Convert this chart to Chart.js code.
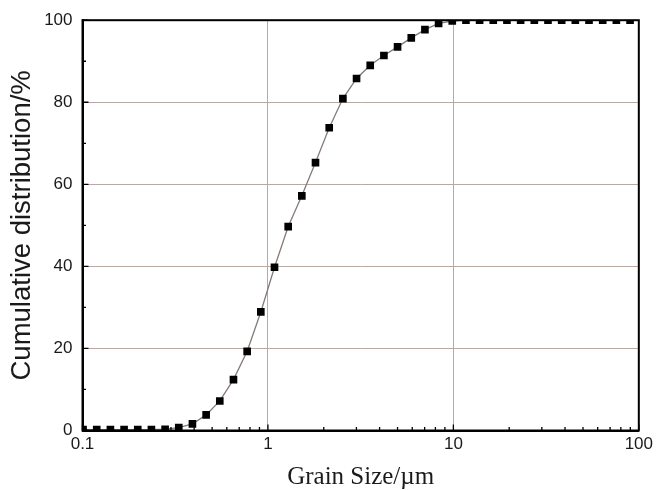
<!DOCTYPE html>
<html>
<head>
<meta charset="utf-8">
<script src="https://cdn.jsdelivr.net/npm/chart.js@4.4.1/dist/chart.umd.min.js"></script>
<style>
  html, body { margin: 0; padding: 0; background: #ffffff; }
  #wrap { width: 657px; height: 490px; position: relative; }
  canvas { display: block; }
</style>
</head>
<body>
<div id="wrap"><canvas id="c" width="657" height="490"></canvas></div>
<script>
// ---- data ----
const grainSize = [0.1007, 0.1193, 0.1414, 0.1676, 0.1986, 0.2353, 0.2789, 0.3305, 0.3916, 0.4642,
                   0.5500, 0.6518, 0.7725, 0.9154, 1.085, 1.286, 1.523, 1.805, 2.140, 2.536,
                   3.005, 3.561, 4.221, 5.000, 5.928, 7.024, 8.323, 9.863, 11.69, 13.85,
                   16.41, 19.45, 23.05, 27.32, 32.37, 38.37, 45.46, 53.88, 63.86, 75.66, 89.68];
const cumulative = [0.2, 0.2, 0.2, 0.2, 0.2, 0.2, 0.3, 0.7, 1.6, 3.8,
                    7.2, 12.4, 19.3, 28.9, 39.8, 49.7, 57.2, 65.3, 73.8, 80.9,
                    85.8, 89.0, 91.4, 93.5, 95.7, 97.7, 99.2, 99.8, 100, 100,
                    100, 100, 100, 100, 100, 100, 100, 100, 100, 100, 100];
const xTickValues = [0.1, 1, 10, 100];
const xTickLabels = ['0.1', '1', '10', '100'];
const xGridValues = [1, 10];
const xMinorTicks = [0.2, 0.3, 0.4, 0.5, 0.6, 0.7, 0.8, 0.9, 2, 3, 4, 5, 6, 7, 8, 9, 20, 30, 40, 50, 60, 70, 80, 90];
const yTickValues = [0, 20, 40, 60, 80, 100];
const yMinorTicks = [10, 30, 50, 70, 90];
const xTitle = 'Grain Size/\u00b5m';
const yTitle = 'Cumulative distribution/%';

const gridColor = '#b8a9a2';

const framePlugin = {
  id: 'frame',
  afterDraw(chart) {
    const {ctx, chartArea: a, scales} = chart;
    const xs = scales.x, ys = scales.y;
    ctx.save();
    ctx.strokeStyle = '#000';
    ctx.lineWidth = 1.3;
    ctx.beginPath();
    yTickValues.forEach(v => { const p = ys.getPixelForValue(v); ctx.moveTo(a.left, p); ctx.lineTo(a.left + 6, p); });
    yMinorTicks.forEach(v => { const p = ys.getPixelForValue(v); ctx.moveTo(a.left, p); ctx.lineTo(a.left + 3.5, p); });
    xTickValues.forEach(v => { const p = xs.getPixelForValue(v); ctx.moveTo(p, a.bottom); ctx.lineTo(p, a.bottom - 6); });
    xMinorTicks.forEach(v => { const p = xs.getPixelForValue(v); ctx.moveTo(p, a.bottom); ctx.lineTo(p, a.bottom - 3.5); });
    ctx.stroke();
    ctx.lineWidth = 2;
    ctx.strokeRect(a.left, a.top, a.right - a.left, a.bottom - a.top);
    ctx.restore();
  }
};

new Chart(document.getElementById('c'), {
  type: 'scatter',
  data: {
    datasets: [{
      data: grainSize.map((x, i) => ({x: x, y: cumulative[i]})),
      showLine: true,
      borderColor: '#857a76',
      borderWidth: 1.3,
      pointStyle: 'rect',
      pointRadius: 5.4,
      pointHoverRadius: 5.4,
      pointBackgroundColor: '#000',
      pointBorderColor: '#000',
      pointBorderWidth: 0,
      tension: 0
    }]
  },
  options: {
    responsive: false,
    animation: false,
    devicePixelRatio: 1,
    layout: { padding: { left: 0, right: 17, top: 19, bottom: 0 } },
    plugins: { legend: { display: false }, tooltip: { enabled: false } },
    scales: {
      x: {
        type: 'logarithmic',
        position: 'bottom',
        min: 0.1,
        max: 100,
        afterBuildTicks(scale) { scale.ticks = xTickValues.map(v => ({value: v})); },
        afterFit(scale) { scale.height = 59.5; },
        ticks: {
          autoSkip: false,
          maxRotation: 0,
          padding: 4,
          color: '#1a1a1a',
          font: { family: 'Liberation Sans', size: 17 },
          callback: (v, i) => xTickLabels[i]
        },
        grid: {
          drawTicks: false,
          lineWidth: 1,
          color: ctx => (ctx.tick && xGridValues.includes(ctx.tick.value)) ? gridColor : 'rgba(0,0,0,0)'
        },
        border: { display: true, color: '#000', width: 2 },
        title: {
          display: true,
          text: xTitle,
          color: '#1a1a1a',
          font: { family: 'Liberation Serif', size: 25, lineHeight: 1 },
          padding: 0
        }
      },
      y: {
        min: 0,
        max: 100,
        afterBuildTicks(scale) { scale.ticks = yTickValues.map(v => ({value: v})); },
        afterFit(scale) { scale.width = 82.5; },
        ticks: {
          padding: 10,
          color: '#1a1a1a',
          font: { family: 'Liberation Sans', size: 17 }
        },
        grid: {
          drawTicks: false,
          lineWidth: 1,
          color: ctx => (ctx.tick && ctx.tick.value > 0 && ctx.tick.value < 100) ? gridColor : 'rgba(0,0,0,0)'
        },
        border: { display: true, color: '#000', width: 2 },
        title: {
          display: true,
          text: yTitle,
          color: '#1a1a1a',
          font: { family: 'Liberation Sans', size: 27.5, lineHeight: 1 },
          padding: 9
        }
      }
    }
  },
  plugins: [framePlugin]
});
</script>
</body>
</html>
